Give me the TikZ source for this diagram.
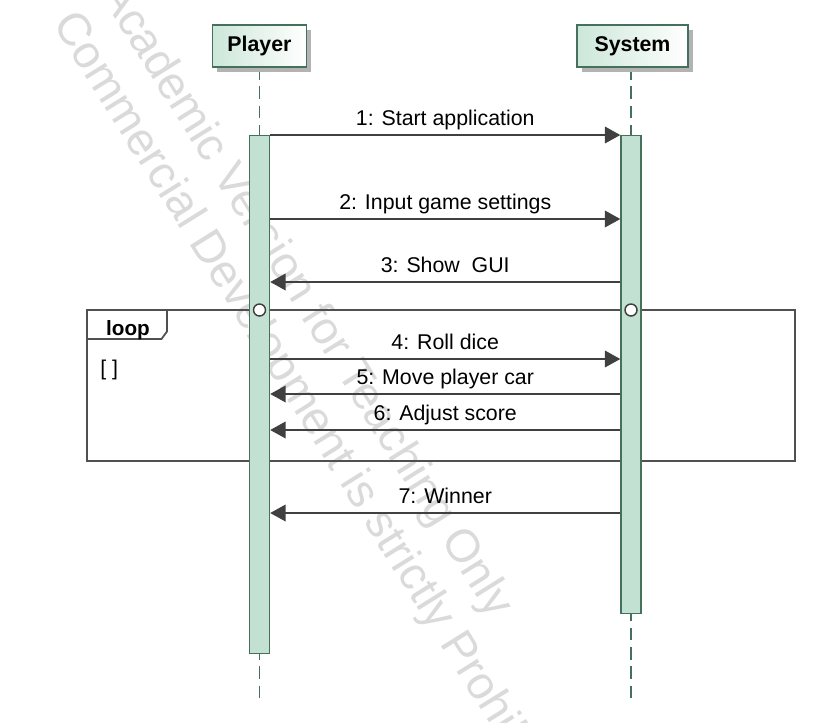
\documentclass[tikz,border=0pt]{standalone}
\usepackage{fontspec}
\setmainfont{Liberation Sans}
\usetikzlibrary{arrows.meta}
\definecolor{hdrgreen}{HTML}{CCE7D9}
\definecolor{dkgreen}{HTML}{44705C}
\definecolor{actfill}{HTML}{C2E1D2}
\definecolor{msgline}{HTML}{404040}
\definecolor{framecol}{HTML}{505050}
\definecolor{wmgray}{HTML}{DADADA}
\definecolor{shadowgray}{HTML}{B3B3B3}
\begin{document}
\begin{tikzpicture}[x=0.75pt,y=-0.75pt,
  hdr/.style={draw=dkgreen,line width=1.3pt,left color=hdrgreen,right color=white,
    minimum height=31.5pt,inner sep=0pt,font=\fontsize{16}{19}\selectfont\bfseries},
  hdrshadow/.style={fill=shadowgray,minimum height=31.5pt,inner sep=0pt},
  lifeline/.style={draw=dkgreen,line width=1.1pt,dash pattern=on 9.5pt off 5pt},
  actbar/.style={draw=dkgreen,line width=1.1pt,fill=actfill,minimum width=15pt,inner sep=0pt,anchor=north},
  msg/.style={draw=msgline,line width=0.95pt,-{Triangle[length=11.5pt,width=12.5pt]}},
  lbl/.style={font=\fontsize{16}{19}\selectfont,inner sep=0pt,anchor=base,yshift=7.2pt},
  frameline/.style={draw=framecol,line width=1.3pt},
  circ/.style={circle,draw=msgline,fill=white,line width=1.1pt,minimum size=9pt,inner sep=0pt},
  wm/.style={text=wmgray,font=\fontsize{34.5}{40}\selectfont,inner sep=0pt,anchor=base west,rotate=-58}]
\useasboundingbox (0,0) rectangle (836,722);
\fill[white] (0,0) rectangle (836,722);
% watermark
\begin{scope}
\clip (0,0) rectangle (836,722);
\node[wm] (wm1) at (99,-7) {Academic Version for Teaching Only};
\node[wm] (wm2) at (52,23) {Commercial Development is strictly Prohibited};
\end{scope}
% lifeline ends
\coordinate (ptop) at (259.5,67);
\coordinate (stop) at (631,67);
\coordinate (pend) at (259.5,698);
\coordinate (send) at (631,698);
% lifelines
\draw[lifeline] (ptop) -- (pend);
\draw[lifeline] (stop) -- (send);
% loop frame
\draw[frameline] (87,310) rectangle (795,461);
\draw[frameline] (87,339) -- (161.5,339) -- (167,331.5) -- (167,310);
\node[font=\fontsize{15.5}{18}\selectfont\bfseries,inner sep=0pt,anchor=base] (looplbl) at (128,335.5) {loop};
\node[font=\fontsize{16}{19}\selectfont,inner sep=0pt,anchor=base west] (guard) at (100,375.5) {[ ]};
% activation bars
\node[actbar,minimum height=388.5pt] (pact) at (259.5,135) {};
\node[actbar,minimum height=358.5pt] (sact) at (631,135) {};
% circles
\node[circ] (c1) at (259.5,310) {};
\node[circ] (c2) at (631,310) {};
% message levels
\coordinate (y1) at (0,135);
\coordinate (y2) at (0,219);
\coordinate (y3) at (0,282);
\coordinate (y4) at (0,359);
\coordinate (y5) at (0,394);
\coordinate (y6) at (0,430);
\coordinate (y7) at (0,513);
\draw[msg] (pact.east |- y1) -- node[lbl] {1: Start application} (sact.west |- y1);
\draw[msg] (pact.east |- y2) -- node[lbl] {2: Input game settings} (sact.west |- y2);
\draw[msg] (sact.west |- y3) -- node[lbl] {3: Show~ GUI} (pact.east |- y3);
\draw[msg] (pact.east |- y4) -- node[lbl] {4: Roll dice} (sact.west |- y4);
\draw[msg] (sact.west |- y5) -- node[lbl] {5: Move player car} (pact.east |- y5);
\draw[msg] (sact.west |- y6) -- node[lbl] {6: Adjust score} (pact.east |- y6);
\draw[msg] (sact.west |- y7) -- node[lbl] {7: Winner} (pact.east |- y7);
% header boxes with shadows
\node[hdrshadow,minimum width=70.5pt] (pshadow) at (264,50.5) {};
\node[hdrshadow,minimum width=83.25pt] (sshadow) at (637,50.5) {};
\node[hdr,minimum width=70.5pt] (player) at (259.5,46) {Player};
\node[hdr,minimum width=83.25pt] (system) at (632.5,46) {System};
\end{tikzpicture}
\end{document}
